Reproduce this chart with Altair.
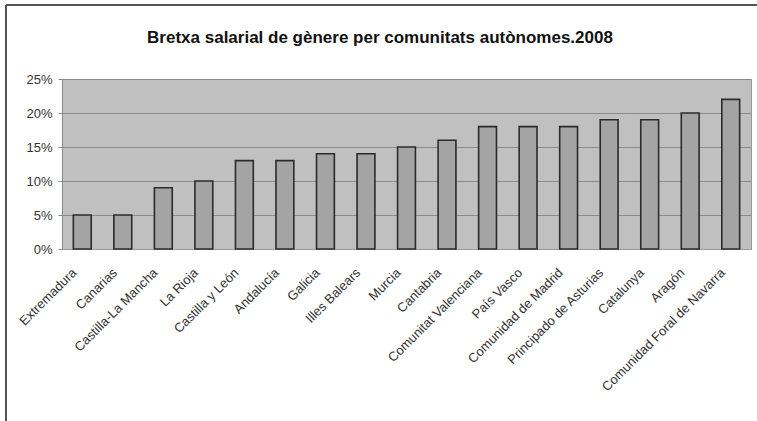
import altair as alt
import pandas as pd

# Gender pay gap by autonomous community, 2008
comunitats = [
    "Extremadura", "Canarias", "Castilla-La Mancha", "La Rioja",
    "Castilla y León", "Andalucía", "Galicia", "Illes Balears", "Murcia",
    "Cantabria", "Comunitat Valenciana", "País Vasco", "Comunidad de Madrid",
    "Principado de Asturias", "Catalunya", "Aragón",
    "Comunidad Foral de Navarra",
]
bretxa = [0.05, 0.05, 0.09, 0.10, 0.13, 0.13, 0.14, 0.14, 0.15,
          0.16, 0.18, 0.18, 0.18, 0.19, 0.19, 0.20, 0.22]
y_ticks = [0.0, 0.05, 0.10, 0.15, 0.20, 0.25]
titol = "Bretxa salarial de gènere per comunitats autònomes.2008"

df = pd.DataFrame({"comunitat": comunitats, "bretxa": bretxa})

FONT = "Liberation Sans"

bars = alt.Chart(df).mark_bar(
    color="#a4a4a4", stroke="#2b2b2b", strokeWidth=1.6
).encode(
    x=alt.X(
        "comunitat:N", sort=comunitats, title=None,
        scale=alt.Scale(paddingInner=0.56, paddingOuter=0.28),
        axis=alt.Axis(
            labelAngle=-45, labelFont=FONT, labelFontSize=13,
            labelColor="#333333", labelPadding=17, labelOffset=-12,
            ticks=False, domainColor="#9a9a9a", labelOverlap=False,
            labelLimit=300,
        ),
    ),
    y=alt.Y(
        "bretxa:Q", title=None,
        scale=alt.Scale(domain=[0, 0.25], nice=False),
        axis=alt.Axis(
            values=y_ticks, format=".0%", labelFont=FONT, labelFontSize=13,
            labelColor="#333333", labelPadding=6, tickSize=4,
            tickColor="#8a8a8a", domainColor="#8a8a8a",
            gridColor="#8a8a8a", gridWidth=1,
        ),
    ),
)

# Chart title, centred over the whole frame
title = alt.Chart(pd.DataFrame({"t": [titol]})).mark_text(
    font=FONT, fontSize=17, fontWeight="bold", color="#111111",
    align="center", baseline="alphabetic",
).encode(text="t:N", x=alt.value(318), y=alt.value(-36))

# Outer frame: left and top edges
frame_left = alt.Chart(df).mark_rule(color="#555555", strokeWidth=1.5, clip=False).encode(
    x=alt.value(-56), y=alt.value(-74), y2=alt.value(360)
)
frame_top = alt.Chart(df).mark_rule(color="#555555", strokeWidth=1.5, clip=False).encode(
    x=alt.value(-56), x2=alt.value(710), y=alt.value(-74)
)

chart = alt.layer(bars, title, frame_left, frame_top).properties(
    width=689,
    height=170,
    background="white",
    padding={"left": 62, "top": 79, "right": 6, "bottom": 172},
    autosize=alt.AutoSizeParams(type="none"),
).configure_view(
    fill="#c0c0c0", stroke="#9a9a9a", strokeWidth=1
)

chart.save("out.html", embed_options={"renderer": "svg", "actions": False})
